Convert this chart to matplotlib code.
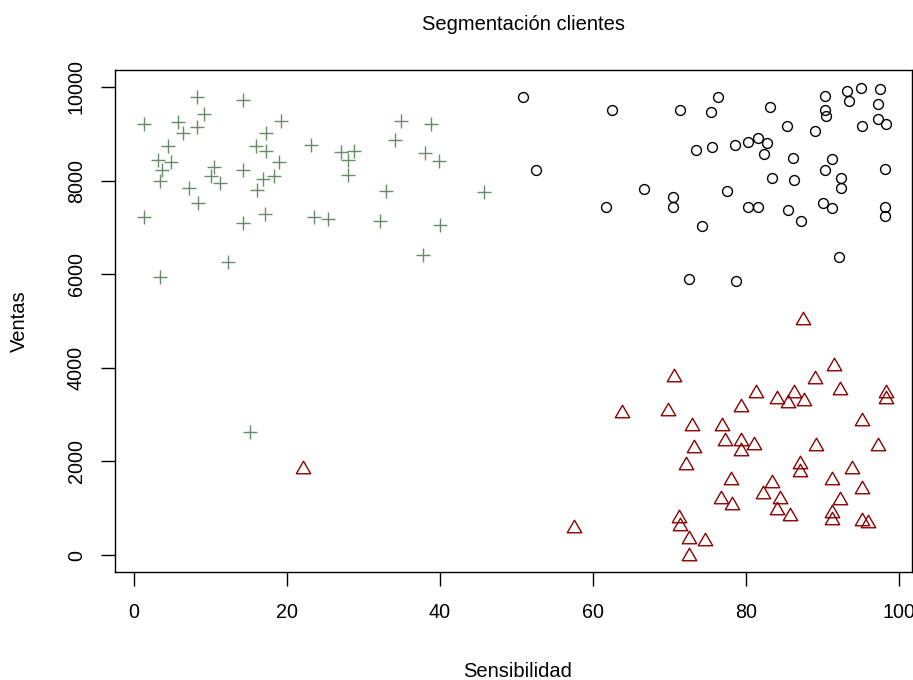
import matplotlib
matplotlib.use("Agg")
import matplotlib.pyplot as plt
from matplotlib.path import Path

plt.rcParams["font.family"] = ["Liberation Sans", "DejaVu Sans"]

# Segment 1: low sensitivity, high sales (crosses)
cross_x = [8.2, 14.2, 9.2, 1.35, 5.7, 8.2, 19.2, 6.4, 17.3, 4.5, 16.0, 17.3, 23.1,
           27.0, 28.7, 28.0, 28.0, 3.2, 4.9, 3.6, 10.5, 14.2, 18.9, 10.0, 11.3, 3.4,
           7.2, 16.9, 18.3, 16.1, 8.4, 1.35, 14.2, 17.1, 23.5, 25.3, 12.3, 3.4,
           34.9, 38.8, 34.1, 38.0, 39.9, 33.0, 45.7, 32.2, 40.0, 37.8, 15.2]
cross_y = [9790, 9720, 9415, 9210, 9245, 9135, 9280, 9010, 9010, 8740, 8740, 8640, 8770,
           8620, 8640, 8440, 8120, 8440, 8400, 8230, 8300, 8230, 8400, 8100, 7955, 7990,
           7850, 8030, 8100, 7800, 7515, 7215, 7100, 7285, 7215, 7175, 6260, 5945,
           9280, 9210, 8870, 8600, 8425, 7785, 7750, 7140, 7050, 6400, 2635]

# Segment 2: high sensitivity, high sales (circles)
circ_x = [50.8, 52.6, 62.5, 71.4, 73.5, 66.7, 70.4, 70.4, 61.7, 74.3, 72.5,
          76.4, 75.4, 83.2, 90.3, 93.2, 95.0, 97.5, 93.4, 97.3, 90.3, 90.4, 85.3,
          89.0, 95.2, 97.3, 98.3, 75.6, 78.5, 80.3, 81.6, 82.7, 82.4, 86.1, 91.3,
          90.3, 83.4, 86.3, 92.4, 92.4, 98.2, 77.5, 80.3, 81.6, 85.5, 87.2, 90.1,
          91.3, 98.2, 98.2, 92.2, 78.7]
circ_y = [9780, 8230, 9510, 9510, 8650, 7820, 7655, 7440, 7440, 7040, 5890,
          9780, 9470, 9580, 9815, 9920, 9985, 9950, 9710, 9645, 9510, 9380, 9165,
          9065, 9165, 9310, 9210, 8725, 8760, 8830, 8900, 8805, 8560, 8490, 8455,
          8230, 8055, 8020, 8055, 7850, 8255, 7785, 7440, 7440, 7370, 7135, 7515,
          7415, 7440, 7245, 6360, 5855]

# Segment 3: high sensitivity, low sales (triangles)
tri_x = [22.1, 70.6, 63.8, 69.8, 79.3, 72.9, 76.8, 73.2, 77.2, 79.4, 79.4, 72.2,
         78.0, 76.7, 78.2, 71.2, 71.4, 72.5, 74.7, 72.6, 57.5,
         87.4, 91.5, 89.0, 92.3, 81.3, 84.0, 86.3, 85.5, 87.6, 98.3, 98.3, 95.2,
         81.1, 89.2, 97.3, 87.1, 87.1, 93.9, 83.4, 91.3, 95.2, 82.2, 84.4, 92.3,
         84.0, 85.7, 91.3, 91.3, 95.2, 96.0]
tri_y = [1890, 3845, 3075, 3115, 3205, 2800, 2800, 2330, 2470, 2470, 2260, 1960,
         1640, 1250, 1105, 835, 660, 390, 335, 20, 625,
         5055, 4080, 3810, 3575, 3510, 3370, 3510, 3300, 3340, 3510, 3370, 2905,
         2385, 2365, 2365, 1985, 1815, 1885, 1590, 1650, 1445, 1340, 1250, 1210,
         1000, 875, 945, 785, 770, 735]

x_ticks = [0, 20, 40, 60, 80, 100]
y_ticks = [0, 2000, 4000, 6000, 8000, 10000]

W, H = 913, 680
fig = plt.figure(figsize=(W / 100, H / 100), dpi=100)
ax = fig.add_axes([115 / W, 1 - 572 / H, (912 - 115) / W, (572 - 70) / H])

# open triangle, slightly wider than tall
tri_marker = Path([(0, 0.433), (-0.5, -0.433), (0.5, -0.433), (0, 0.433)],
                  [Path.MOVETO, Path.LINETO, Path.LINETO, Path.CLOSEPOLY])

ax.plot(cross_x, cross_y, linestyle="none", marker="+", markersize=10.4,
        markeredgewidth=1.0, color="#698B69")
ax.plot(circ_x, circ_y, linestyle="none", marker="o", markersize=7.1,
        markeredgewidth=1.0, markerfacecolor="none", markeredgecolor="black")
ax.plot(tri_x, tri_y, linestyle="none", marker=tri_marker, markersize=10.4,
        markeredgewidth=1.0, markerfacecolor="none", markeredgecolor="#8B0000")

ax.set_xlim(-19 / 7.65, 778 / 7.65)
ax.set_ylim(-363, 10363)
ax.set_xticks(x_ticks)
ax.set_yticks(y_ticks)
ax.set_xticklabels([str(v) for v in x_ticks])
ax.set_yticklabels([str(v) for v in y_ticks])

for s in ax.spines.values():
    s.set_linewidth(1.0)
    s.set_color("black")

ax.tick_params(axis="both", direction="out", length=10, width=1.0,
               labelsize=14.2, colors="black")
ax.tick_params(axis="x", pad=12)
ax.tick_params(axis="y", pad=11)
for lbl in ax.get_yticklabels():
    lbl.set_rotation(90)
    lbl.set_verticalalignment("center")

fig.text(524 / W, 1 - 30 / H, "Segmentación clientes", ha="center",
         va="baseline", fontsize=14.5)
fig.text(518 / W, 1 - 677 / H, "Sensibilidad", ha="center", va="baseline",
         fontsize=14.5)
fig.text(19 / W, 1 - 321 / H, "Ventas", ha="center", va="center",
         rotation=90, fontsize=14.5)

fig.savefig("out.png", dpi=100, facecolor="white")
